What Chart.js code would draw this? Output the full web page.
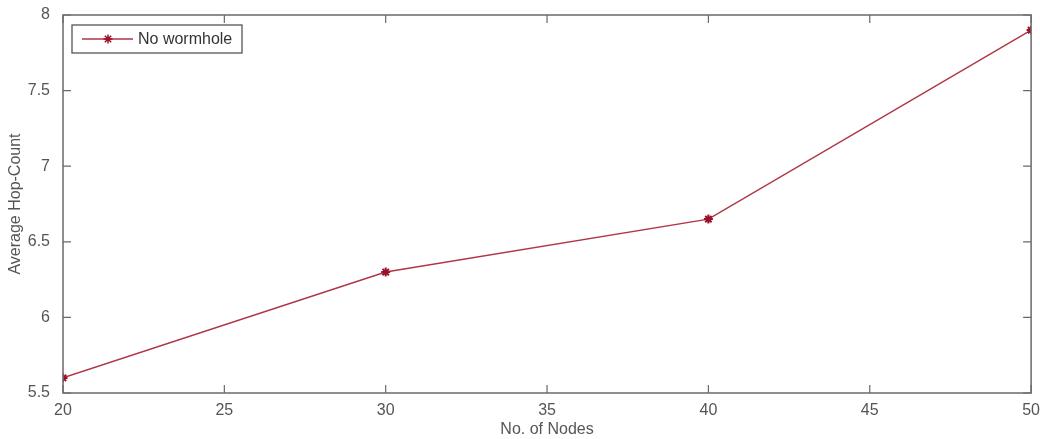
<!DOCTYPE html>
<html>
<head>
<meta charset="utf-8">
<script src="https://cdn.jsdelivr.net/npm/chart.js@4/dist/chart.umd.min.js"></script>
<style>
  html, body { margin: 0; padding: 0; background: #fff; }
  #box { width: 1040px; height: 439px; }
</style>
</head>
<body>
<div id="box"><canvas id="graph"></canvas></div>
<script>
// values
const nodes = [20, 30, 40, 50];
const hopCount = [5.6, 6.3, 6.65, 7.9];
const seriesName = `No wormhole`;
const xTicks = [20, 25, 30, 35, 40, 45, 50];
const yTicks = [5.5, 6, 6.5, 7, 7.5, 8];
const yTickLabels = [`5.5`, `6`, `6.5`, `7`, `7.5`, `8`];
const xTitle = `No. of Nodes`;
const yTitle = `Average Hop-Count`;

const lineColor = `#b03545`;
const markColor = `#9c0f28`;
const axisColor = `#6a6a6a`;
const textColor = `#555`;

// matlab style box with inward ticks + legend in the corner
const matlabFrame = {
  id: `matlabFrame`,
  afterDraw(chart) {
    const {ctx, chartArea: a, scales} = chart;
    const len = 8;
    ctx.save();
    ctx.strokeStyle = axisColor;
    ctx.lineWidth = 1.5;
    ctx.strokeRect(a.left, a.top, a.right - a.left, a.bottom - a.top);
    ctx.lineWidth = 1.2;
    ctx.beginPath();
    for (let v of xTicks) {
      const x = scales.x.getPixelForValue(v);
      ctx.moveTo(x, a.bottom); ctx.lineTo(x, a.bottom - len);
      ctx.moveTo(x, a.top); ctx.lineTo(x, a.top + len);
    }
    for (let v of yTicks) {
      const y = scales.y.getPixelForValue(v);
      ctx.moveTo(a.left, y); ctx.lineTo(a.left + len, y);
      ctx.moveTo(a.right, y); ctx.lineTo(a.right - len, y);
    }
    ctx.stroke();

    // legend
    const lx = a.left + 9, ly = a.top + 10, lw = 170, lh = 28;
    ctx.fillStyle = `#fff`;
    ctx.fillRect(lx, ly, lw, lh);
    ctx.strokeStyle = `#555`;
    ctx.lineWidth = 1.3;
    ctx.strokeRect(lx, ly, lw, lh);
    const cy = ly + lh / 2;
    ctx.strokeStyle = lineColor;
    ctx.lineWidth = 1.5;
    ctx.beginPath();
    ctx.moveTo(lx + 10, cy); ctx.lineTo(lx + 61, cy);
    ctx.stroke();
    ctx.strokeStyle = markColor;
    Chart.helpers.drawPoint(ctx, {pointStyle: `star`, radius: 4.5, borderWidth: 2}, lx + 36, cy);
    ctx.fillStyle = `#333`;
    ctx.font = `16px "Liberation Sans", Arial, sans-serif`;
    ctx.textBaseline = `middle`;
    ctx.fillText(seriesName, lx + 66, cy + 1);
    ctx.restore();
  }
};

const graph = new Chart(`graph`, {
  type: `line`,
  data: {
    datasets: [{
      label: seriesName,
      data: nodes.map((n, i) => ({x: n, y: hopCount[i]})),
      borderColor: lineColor,
      borderWidth: 1.5,
      pointStyle: `star`,
      pointRadius: 4.5,
      pointBorderWidth: 2,
      pointBorderColor: markColor,
      pointBackgroundColor: markColor,
      tension: 0,
      fill: false
    }]
  },
  options: {
    responsive: true,
    maintainAspectRatio: false,
    animation: false,
    layout: {padding: {top: 15, right: 0, left: 0, bottom: 0}},
    plugins: {legend: {display: false}, tooltip: {enabled: false}},
    scales: {
      x: {
        type: `linear`,
        min: 20, max: 50,
        afterBuildTicks: s => { s.ticks = xTicks.map(v => ({value: v})); },
        afterFit: s => { s.height = 46; },
        grid: {display: false},
        border: {display: false},
        ticks: {
          color: textColor, padding: 0, maxRotation: 0,
          font: {size: 16, family: `"Liberation Sans", Arial, sans-serif`}
        },
        title: {
          display: true, text: xTitle, color: textColor,
          padding: {top: 0, bottom: 0},
          font: {size: 16, family: `"Liberation Sans", Arial, sans-serif`}
        }
      },
      y: {
        min: 5.5, max: 8,
        afterBuildTicks: s => { s.ticks = yTicks.map(v => ({value: v})); },
        afterFit: s => { s.width = 63; },
        grid: {display: false},
        border: {display: false},
        ticks: {
          color: textColor, padding: 5,
          callback: v => yTickLabels[yTicks.indexOf(v)],
          font: {size: 16, family: `"Liberation Sans", Arial, sans-serif`}
        },
        title: {
          display: true, text: yTitle, color: textColor,
          padding: {top: 6, bottom: 0},
          font: {size: 16, family: `"Liberation Sans", Arial, sans-serif`}
        }
      }
    }
  },
  plugins: [matlabFrame]
});
</script>
</body>
</html>
